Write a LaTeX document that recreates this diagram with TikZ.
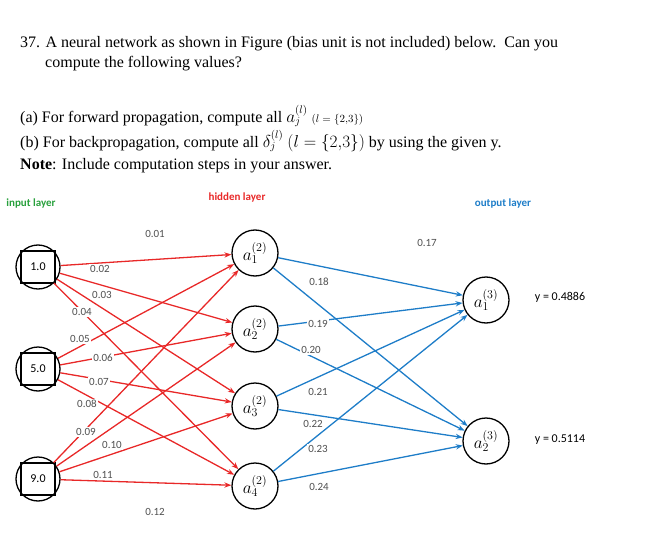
\documentclass[tikz,border=0pt]{standalone}
\usepackage{fontspec}
\setmainfont{Liberation Serif}
\newfontfamily\lab{Carlito}
\usetikzlibrary{arrows.meta}
\definecolor{wred}{RGB}{232,40,40}
\definecolor{wblue}{RGB}{30,125,200}
\definecolor{wgray}{RGB}{80,80,80}
\definecolor{lgreen}{RGB}{40,160,60}
\newcommand{\nlab}[1]{{\fontsize{17}{18}\selectfont$#1$}}
\begin{document}
\begin{tikzpicture}[x=1pt,y=-1pt,
  neuron/.style={circle,draw,line width=1.3pt,minimum size=46pt,inner sep=0pt},
  inp/.style={circle,draw,line width=1.3pt,minimum size=44pt,inner sep=0pt,font=\lab\fontsize{12}{14}\selectfont},
  rw/.style={draw=wred,line width=1.3pt,-{Stealth[length=7pt]}},
  bw/.style={draw=wblue,line width=1.3pt,-{Stealth[length=7pt]}},
  wl/.style={font=\lab\fontsize{11}{12}\selectfont,text=wgray,fill=white,inner sep=1pt},
  q/.style={anchor=base west,inner sep=0pt,font=\fontsize{16}{18}\selectfont},
  ll/.style={font=\lab\bfseries\fontsize{11}{12}\selectfont}]
\useasboundingbox (0,0) rectangle (651,543);
\node[q] (t1) at (20,48) {37. A neural network as shown in Figure (bias unit is not included) below.\ \ Can you};
\node[q] (t2) at (45,67) {compute the following values?};
\node[q] (t3) at (20,122) {(a) For forward propagation, compute all $a_j^{(l)}$ {\fontsize{11}{12}\selectfont$(l=\{2{,}3\})$}};
\node[q] (t4) at (20,147) {(b) For backpropagation, compute all $\delta_j^{(l)}$ $(l=\{2{,}3\})$ by using the given y.};
\node[q] (t5) at (20,169) {\textbf{Note}: Include computation steps in your answer.};
\node[ll,text=lgreen] (L1) at (31,204) {input layer};
\node[ll,text=wred] (L2) at (237,198) {hidden layer};
\node[ll,text=wblue] (L3) at (503,204) {output layer};

\foreach \n/\y/\v in {1/267/1.0,2/369/5.0,3/479/9.0}{
  \node[inp] (i\n) at (38,\y) {\v};
  \draw[line width=1.3pt] (21,\y-16) rectangle (55,\y+16);
}
\foreach \n/\y in {1/253,2/329,3/406,4/486}{
  \node[neuron] (h\n) at (255,\y) {\nlab{a_{\n}^{(2)}}};
}
\node[neuron] (o1) at (486,300) {\nlab{a_{1}^{(3)}}};
\node[neuron] (o2) at (486,441) {\nlab{a_{2}^{(3)}}};
\node[font=\lab\fontsize{12}{14}\selectfont] (y1) at (560,297) {y = 0.4886};
\node[font=\lab\fontsize{12}{14}\selectfont] (y2) at (560,440) {y = 0.5114};

\foreach \i in {1,2,3}{\foreach \h in {1,2,3,4}{\draw[rw] (i\i) -- (h\h);}}
\foreach \h in {1,2,3,4}{\foreach \o in {1,2}{\draw[bw] (h\h) -- (o\o);}}

\node[wl,fill=none] at (155,234) {0.01};
\node[wl] at (100,269) {0.02};
\node[wl] at (102,295) {0.03};
\node[wl] at (82,312) {0.04};
\node[wl] at (80,339) {0.05};
\node[wl] at (103,358) {0.06};
\node[wl] at (99,382) {0.07};
\node[wl] at (87,404) {0.08};
\node[wl] at (86,432) {0.09};
\node[wl] at (112,445) {0.10};
\node[wl] at (103,475) {0.11};
\node[wl,fill=none] at (155,512) {0.12};
\node[wl,fill=none] at (427,243) {0.17};
\node[wl] at (319,282) {0.18};
\node[wl] at (318,324) {0.19};
\node[wl] at (311,350) {0.20};
\node[wl] at (318,392) {0.21};
\node[wl] at (313,424) {0.22};
\node[wl] at (318,449) {0.23};
\node[wl] at (319,487) {0.24};
\end{tikzpicture}
\end{document}
